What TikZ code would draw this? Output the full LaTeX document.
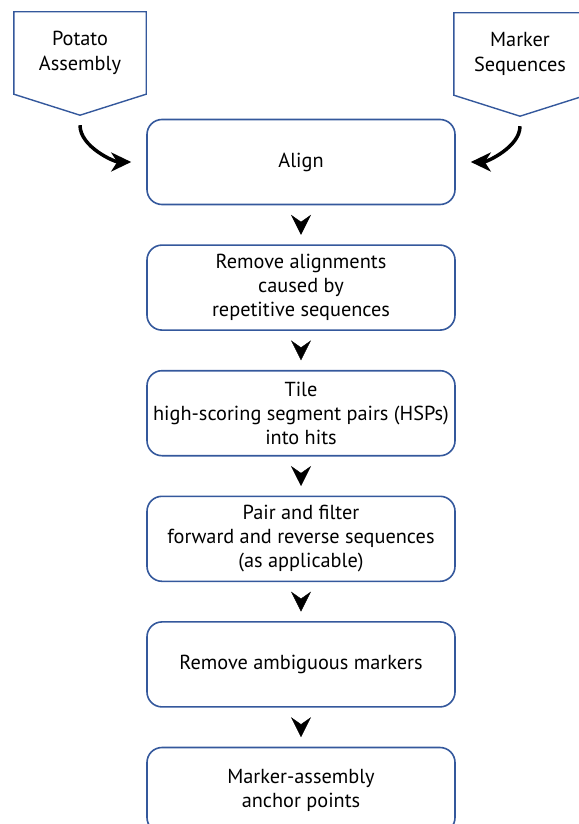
\documentclass[tikz,border=0pt]{standalone}
\usepackage{fontspec}
\setmainfont{PT Sans}
\usetikzlibrary{positioning,arrows.meta}
\definecolor{boxblue}{RGB}{52,88,156}

\begin{document}
\begin{tikzpicture}[x=1pt,y=-1pt]
\tikzset{step box/.style={draw=boxblue, line width=1.6pt, rounded corners=15pt, minimum width=308pt, minimum height=85pt, align=center, font=\fontsize{20.3}{24}\selectfont}}
\tikzset{src box/.style={minimum width=132pt, minimum height=82pt, align=center, font=\fontsize{20.3}{25}\selectfont}}
\tikzset{src line/.style={draw=boxblue, line width=1.4pt, line join=miter}}
\tikzset{down/.style={white, -{Stealth[black,length=20pt,width=20pt,inset=7pt]}, line width=0.4pt, shorten <=9.5pt, shorten >=9.5pt}}
\tikzset{curv/.style={-{Stealth[length=20pt,width=19pt,inset=6pt]}, line width=3.5pt}}
\useasboundingbox (0,0) rectangle (578,824);

\node[src box] (PA) at (80,53) {Potato\\Assembly};
\node[src box] (MS) at (520,54) {Marker\\Sequences};
\draw[src line] (PA.south west) -- (PA.north west) -- (PA.north east) -- (PA.south east) -- ([yshift=-21pt]PA.south) -- cycle;
\draw[src line] (MS.south west) -- (MS.north west) -- (MS.north east) -- (MS.south east) -- ([yshift=-21pt]MS.south) -- cycle;

\node[step box] (Al) at (301,162) {Align};
\node[step box, below=39pt of Al] (Rm) {Remove alignments\\caused by\\repetitive sequences};
\node[step box, below=39pt of Rm] (Ti) {Tile\\high-scoring segment pairs (HSPs)\\into hits};
\node[step box, below=39pt of Ti] (Pf) {Pair and filter\\forward and reverse sequences\\(as applicable)};
\node[step box, below=39pt of Pf] (Ra) {Remove ambiguous markers};
\node[step box, below=39pt of Ra] (Ap) {Marker-assembly\\anchor points};

\draw[curv, shorten <=10pt, shorten >=15pt] ([yshift=-21pt]PA.south) to[out=-90,in=180] (Al.west);
\draw[curv, shorten <=10pt, shorten >=15pt] ([yshift=-21pt]MS.south) to[out=-90,in=0] (Al.east);

\draw[down] (Al) -- (Rm);
\draw[down] (Rm) -- (Ti);
\draw[down] (Ti) -- (Pf);
\draw[down] (Pf) -- (Ra);
\draw[down] (Ra) -- (Ap);
\end{tikzpicture}
\end{document}
